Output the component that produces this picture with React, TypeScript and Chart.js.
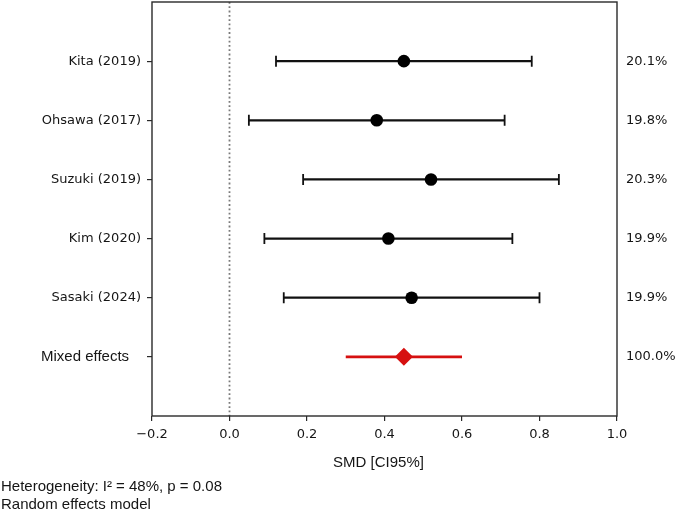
import { useEffect, useRef } from 'react';
import { Chart, registerables } from 'chart.js';

Chart.register(...registerables);

// Study rows (top to bottom)
const studyLabels = ['Kita (2019)', 'Ohsawa (2017)', 'Suzuki (2019)', 'Kim (2020)', 'Sasaki (2024)'];
const studySmd = [0.45, 0.38, 0.52, 0.41, 0.47];
const studyLower = [0.12, 0.05, 0.19, 0.09, 0.14];
const studyUpper = [0.78, 0.71, 0.85, 0.73, 0.8];
const studyWeights = ['20.1%', '19.8%', '20.3%', '19.9%', '19.9%'];

// Pooled estimate
const pooledLabel = 'Mixed effects';
const pooledSmd = 0.45;
const pooledLower = 0.3;
const pooledUpper = 0.6;
const pooledWeight = '100.0%';

const xAxisTitle = 'SMD [CI95%]';
const footnotes = ['Heterogeneity: I\u00b2 = 48%, p = 0.08', 'Random effects model'];

const TICK_FONT = '"DejaVu Sans", sans-serif';
const SANS_FONT = '"Liberation Sans", Arial, sans-serif';
const INK = '#151515';
const RED = '#d61010';

const noPadding = () => ({ left: 0, right: 0, top: 0, bottom: 0 });

export default function App() {
  const canvasRef = useRef<HTMLCanvasElement>(null);

  useEffect(() => {
    document.body.style.margin = '0';
    const canvas = canvasRef.current;
    if (!canvas) return;

    const rowCount = studyLabels.length + 1;

    const forestPlugin = {
      id: 'forest',
      beforeDatasetsDraw(chart: any) {
        const { ctx, chartArea, scales } = chart;
        const x = scales.x;
        const y = scales.y;
        ctx.save();
        ctx.beginPath();
        ctx.rect(chartArea.left, chartArea.top, chartArea.right - chartArea.left, chartArea.bottom - chartArea.top);
        ctx.clip();

        // line of no effect
        const x0 = x.getPixelForValue(0);
        ctx.strokeStyle = '#7a7a7a';
        ctx.lineWidth = 1.8;
        ctx.setLineDash([1.8, 2.5]);
        ctx.beginPath();
        ctx.moveTo(x0, chartArea.top);
        ctx.lineTo(x0, chartArea.bottom);
        ctx.stroke();
        ctx.setLineDash([]);

        // study confidence intervals with caps
        ctx.strokeStyle = '#111';
        studyLabels.forEach((_, i) => {
          const py = y.getPixelForValue(i + 1);
          const xl = x.getPixelForValue(studyLower[i]);
          const xu = x.getPixelForValue(studyUpper[i]);
          ctx.lineWidth = 2.2;
          ctx.beginPath();
          ctx.moveTo(xl, py);
          ctx.lineTo(xu, py);
          ctx.stroke();
          ctx.lineWidth = 1.8;
          ctx.beginPath();
          ctx.moveTo(xl, py - 5.5);
          ctx.lineTo(xl, py + 5.5);
          ctx.moveTo(xu, py - 5.5);
          ctx.lineTo(xu, py + 5.5);
          ctx.stroke();
        });

        // pooled interval
        const pyPooled = y.getPixelForValue(rowCount);
        ctx.strokeStyle = RED;
        ctx.lineWidth = 2.6;
        ctx.beginPath();
        ctx.moveTo(x.getPixelForValue(pooledLower), pyPooled);
        ctx.lineTo(x.getPixelForValue(pooledUpper), pyPooled);
        ctx.stroke();
        ctx.restore();
      },
      afterDraw(chart: any) {
        const { ctx, chartArea, scales } = chart;
        const y = scales.y;
        ctx.save();

        // axes frame
        ctx.strokeStyle = '#2a2a2a';
        ctx.lineWidth = 1.4;
        ctx.strokeRect(chartArea.left, chartArea.top, chartArea.right - chartArea.left, chartArea.bottom - chartArea.top);

        // weights on the right
        ctx.fillStyle = INK;
        ctx.font = `13px ${TICK_FONT}`;
        ctx.textAlign = 'left';
        ctx.textBaseline = 'middle';
        [...studyWeights, pooledWeight].forEach((w, i) => {
          ctx.fillText(w, chartArea.right + 9, y.getPixelForValue(i + 1));
        });

        // pooled row label
        ctx.font = `15px ${SANS_FONT}`;
        ctx.fillText(pooledLabel, 41, y.getPixelForValue(rowCount));

        // x-axis title
        ctx.textAlign = 'center';
        ctx.fillText(xAxisTitle, (chartArea.left + chartArea.right) / 2 - 6, 463);

        // footnotes
        ctx.textAlign = 'left';
        ctx.fillText(footnotes[0], 1, 487);
        ctx.fillText(footnotes[1], 1, 505);
        ctx.restore();
      },
    };

    const chart = new Chart(canvas, {
      type: 'scatter',
      data: {
        datasets: [
          {
            label: 'Studies',
            data: studySmd.map((v, i) => ({ x: v, y: i + 1 })),
            pointStyle: 'circle',
            pointRadius: 6.3,
            pointBackgroundColor: '#000',
            pointBorderColor: '#000',
            pointBorderWidth: 0,
          },
          {
            label: 'Pooled',
            data: [{ x: pooledSmd, y: rowCount }],
            pointStyle: 'rectRot',
            pointRadius: 9,
            pointBackgroundColor: RED,
            pointBorderColor: RED,
            pointBorderWidth: 0,
          },
        ],
      },
      options: {
        animation: false,
        responsive: false,
        devicePixelRatio: 1,
        layout: { autoPadding: false, padding: { left: 0, right: 59, top: 2, bottom: 0 } },
        plugins: {
          legend: { display: false },
          tooltip: { enabled: false },
        },
        scales: {
          x: {
            type: 'linear',
            min: -0.2,
            max: 1.0,
            afterFit: (axis: any) => {
              axis.height = 98;
              axis.paddingLeft = 0;
              axis.paddingRight = 0;
              axis.getPadding = noPadding;
            },
            border: { display: false },
            grid: {
              drawOnChartArea: false,
              drawTicks: true,
              tickLength: 5,
              color: '#2a2a2a',
              lineWidth: 1.2,
            },
            ticks: {
              stepSize: 0.2,
              padding: 6,
              color: INK,
              font: { family: TICK_FONT, size: 13 },
              callback: (v: any) => {
                const n = Number(v);
                const s = Math.abs(n).toFixed(1);
                return n < -1e-9 ? '\u2212' + s : s;
              },
            },
          },
          y: {
            type: 'linear',
            min: 0,
            max: rowCount + 1,
            reverse: true,
            afterFit: (axis: any) => {
              axis.width = 152;
              axis.paddingTop = 0;
              axis.paddingBottom = 0;
              axis.getPadding = noPadding;
            },
            afterBuildTicks: (axis: any) => {
              axis.ticks = Array.from({ length: rowCount }, (_, i) => ({ value: i + 1 }));
            },
            border: { display: false },
            grid: {
              drawOnChartArea: false,
              drawTicks: true,
              tickLength: 5,
              color: '#2a2a2a',
              lineWidth: 1.2,
            },
            ticks: {
              autoSkip: false,
              padding: 6,
              color: INK,
              font: { family: TICK_FONT, size: 13 },
              callback: (v: any) => {
                const idx = Number(v) - 1;
                return idx >= 0 && idx < studyLabels.length ? studyLabels[idx] : '';
              },
            },
          },
        },
      },
      plugins: [forestPlugin],
    });

    return () => chart.destroy();
  }, []);

  return (
    <div style={{ position: 'absolute', left: 0, top: 0, width: 676, height: 514, background: '#fff' }}>
      <canvas ref={canvasRef} width={676} height={514} style={{ display: 'block', width: 676, height: 514 }} />
    </div>
  );
}
